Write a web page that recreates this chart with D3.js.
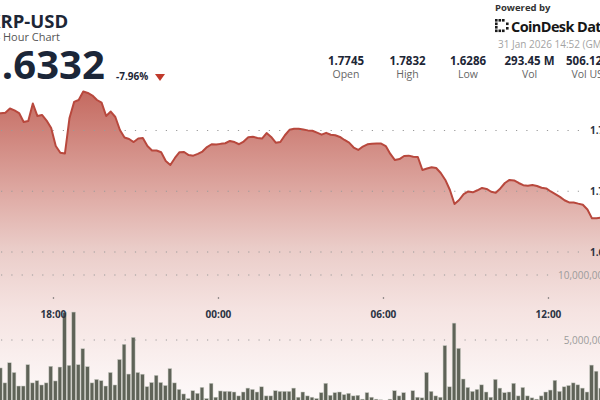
<!DOCTYPE html>
<html><head><meta charset="utf-8">
<script src="https://cdn.jsdelivr.net/npm/d3@7"></script>
<style>
html,body{margin:0;padding:0;background:#fff;overflow:hidden}
svg{display:block;font-family:"Open Sans",sans-serif}
</style></head><body>
<svg id="c" width="600" height="400"></svg>
<script>
const symbol = "XRP-USD";
const subtitle = "24 Hour Chart";
const lastPrice = "1.6332";
const changePct = "-7.96%";
const poweredBy = "Powered by";
const brand = "CoinDesk Data";
const timestamp = "31 Jan 2026 14:52 (GMT)";
const statLabels = ["Open", "High", "Low", "Vol", "Vol USD"];
const statValues = ["1.7745", "1.7832", "1.6286", "293.45 M", "506.12 M"];
const priceTicks = [1.65, 1.70, 1.75];
const volumeTicks = [5000000, 10000000];
const timeTicks = ["2026-01-30T18:00", "2026-01-31T00:00", "2026-01-31T06:00", "2026-01-31T12:00"];
const windowStart = "2026-01-30T14:52";
const windowEnd = "2026-01-31T14:52";
const priceStart = "2026-01-30T15:55";   // 10-minute closes
const prices = [1.7640,
 1.7642,1.7647,1.7681,1.7665,1.7644,1.7570,1.7578,1.7722,1.7619,1.7628,
 1.7582,1.7521,1.7372,1.7317,1.7310,1.7603,1.7735,1.7751,1.7821,1.7809,
 1.7788,1.7751,1.7729,1.7619,1.7656,1.7611,1.7504,1.7442,1.7430,1.7405,
 1.7434,1.7438,1.7372,1.7335,1.7335,1.7321,1.7249,1.7216,1.7274,1.7321,
 1.7323,1.7298,1.7293,1.7308,1.7327,1.7364,1.7387,1.7384,1.7390,1.7395,
 1.7414,1.7405,1.7387,1.7409,1.7445,1.7448,1.7439,1.7434,1.7479,1.7447,
 1.7400,1.7405,1.7461,1.7506,1.7515,1.7515,1.7508,1.7501,1.7498,1.7482,
 1.7466,1.7481,1.7465,1.7461,1.7447,1.7422,1.7400,1.7360,1.7340,1.7368,
 1.7386,1.7391,1.7393,1.7392,1.7372,1.7307,1.7257,1.7265,1.7290,1.7293,
 1.7284,1.7282,1.7175,1.7187,1.7197,1.7191,1.7150,1.7093,1.7010,1.6895,
 1.6928,1.6977,1.6998,1.6991,1.7008,1.7027,1.7019,1.6996,1.6988,1.7023,
 1.7068,1.7093,1.7089,1.7068,1.7050,1.7046,1.7051,1.7043,1.7029,1.7023,
 1.6998,1.6977,1.6954,1.6926,1.6908,1.6908,1.6898,1.6889,1.6850,1.6777,
 1.6777,1.6784];
const volumeStart = "2026-01-30T16:00";  // 10-minute volumes, millions
const volumes = [2.85,1.7,3.25,2.5,1.46,1.46,3.1,1.7,1.87,1.54,
 1.7,2.98,1.85,2.92,7.13,3.05,7.15,3.1,4.33,2.95,
 1.7,1.97,1.87,1.46,2.5,1.54,3.5,4.67,2.38,5.2,
 2.5,2.37,1.41,1.73,2.28,1.73,1.5,2.8,1.7,1.2,
 0.85,0.5,1.1,0.9,1.36,0.5,1.67,0.6,1.08,1.05,
 1.05,1.0,0.7,1.0,1.3,1.2,1.0,1.4,0.7,0.7,
 1.1,1.05,1.05,1.05,1.3,0.6,
 1.0,0.7,0.6,0.5,0.95,1.67,0.75,0.95,1.0,0.8,
 0.9,0.7,0.75,0.45,0.95,0.6,0.45,0.4,0.35,0.45,
 1.1,0.7,0.95,0.35,1.1,0.6,0.55,2.5,1.05,0.7,
 0.6,4.57,1.4,6.3,4.36,2.0,1.35,1.05,1.2,1.55,
 1.0,0.6,1.97,1.3,0.95,1.0,1.67,0.7,1.35,0.7,
 0.55,0.45,0.7,1.0,1.15,1.9,1.05,1.4,1.5,1.7,
 1.55,1.3,1.0,3.07,2.6,1.3];

const svg = d3.select("#c");
const parse = s => new Date(s + ":00Z");
const step = 10 * 60 * 1000;

const x = d3.scaleUtc().domain([parse(windowStart), parse(windowEnd)]).range([-32.7, 627.3]);
const yP = d3.scaleLinear().domain([1.65, 1.75]).range([252, 130.5]);
const yV = d3.scaleLinear().domain([0, 10000000]).range([405, 275]);

const pStart = parse(priceStart).getTime();
const priceData = prices.map((p, i) => ({t: new Date(pStart + i * step), p}));
const vStart = parse(volumeStart).getTime();
const volData = volumes.map((v, i) => ({t: new Date(vStart + i * step), v: v * 1e6}));

// gradient
const defs = svg.append("defs");
const g = defs.append("linearGradient").attr("id", "fillG")
  .attr("gradientUnits", "userSpaceOnUse").attr("x1", 0).attr("x2", 0)
  .attr("y1", yP(1.7832)).attr("y2", yV(0));
[[0, "#c4695f"], [0.35, "#e0aea8"], [0.5, "#eaccc8"], [0.7, "#f5e3e1"], [1, "#fefbfb"]]
  .forEach(([o, c]) => g.append("stop").attr("offset", o).attr("stop-color", c));

// area
svg.append("path").datum(priceData)
  .attr("d", d3.area().x(d => x(d.t)).y0(yV(0)).y1(d => yP(d.p)))
  .attr("fill", "url(#fillG)");

// grid lines
const gridG = svg.append("g").attr("stroke", "#9a9a9a").attr("stroke-width", 1.1)
  .attr("stroke-dasharray", "1.2,9.1").attr("stroke-linecap", "butt");
priceTicks.forEach(v => gridG.append("line").attr("x1", 1).attr("x2", 582)
  .attr("y1", yP(v)).attr("y2", yP(v)));
volumeTicks.forEach(v => gridG.append("line").attr("x1", 1).attr("x2", 553)
  .attr("y1", yV(v)).attr("y2", yV(v)));

// volume bars
svg.append("g").selectAll("rect").data(volData).join("rect")
  .attr("x", d => x(d.t))
  .attr("width", d => x(new Date(d.t.getTime() + step)) - x(d.t) - 0.9)
  .attr("y", d => yV(d.v))
  .attr("height", d => yV(0) - yV(d.v))
  .attr("fill", "#5f6358").attr("stroke", "#c9cbc4").attr("stroke-width", 0.5);

// price line
svg.append("path").datum(priceData)
  .attr("d", d3.line().x(d => x(d.t)).y(d => yP(d.p)))
  .attr("fill", "none").attr("stroke", "#b8483d").attr("stroke-width", 2)
  .attr("stroke-linejoin", "round");

// axis labels
svg.append("g").selectAll("text").data(priceTicks).join("text")
  .attr("x", 590).attr("y", d => yP(d) + 3.6)
  .attr("font-size", 10).attr("font-weight", 700).attr("fill", "#2b3343")
  .text(d => d3.format(".2f")(d));
svg.append("g").selectAll("text").data(volumeTicks).join("text")
  .attr("x", 609).attr("y", d => yV(d) + 3.6).attr("text-anchor", "end")
  .attr("font-size", 10).attr("fill", "#9b9b9b")
  .text(d => d3.format(",")(d));
const tt = timeTicks.map(parse);
svg.append("g").selectAll("circle").data(tt).join("circle")
  .attr("cx", d => x(d)).attr("cy", 298).attr("r", 0.8).attr("fill", "#666");
svg.append("g").selectAll("text").data(tt).join("text")
  .attr("x", d => x(d)).attr("y", 318).attr("text-anchor", "middle")
  .attr("font-size", 10).attr("font-weight", 700).attr("fill", "#2b3343")
  .text(d3.utcFormat("%H:%M"));

// header left
svg.append("text").attr("x", -11.8).attr("y", 27.5).attr("font-size", 18.5).attr("font-weight", 700)
  .attr("fill", "#1d2636").text(symbol);
svg.append("text").attr("x", -12.5).attr("y", 41).attr("font-size", 11).attr("fill", "#555")
  .text(subtitle);
svg.append("text").attr("x", -21).attr("y", 79).attr("font-size", 40).attr("font-weight", 700)
  .attr("fill", "#1b2638").text(lastPrice);
svg.append("text").attr("x", 116).attr("y", 80).attr("font-size", 10).attr("font-weight", 700)
  .attr("fill", "#1d2636").text(changePct);
svg.append("path").attr("d", "M155,74 L165,74 L160,81 Z").attr("fill", "#c0392b");

// header right
svg.append("text").attr("x", 495).attr("y", 11).attr("font-size", 9.5).attr("font-weight", 700)
  .attr("fill", "#333").text(poweredBy);
const logo = svg.append("g").attr("fill", "#1a1a1a");
[[495,19],[495,22.5],[495,26],[495,29.5],[498.5,19],[502,19],[498.5,29.5],[502,29.5],[506,22.5],[506,27]]
  .forEach(([a, b]) => logo.append("rect").attr("x", a).attr("y", b).attr("width", 2.6).attr("height", 2.6));
svg.append("text").attr("x", 511).attr("y", 32).attr("font-size", 14.5).attr("font-weight", 700)
  .attr("letter-spacing", -0.6).attr("fill", "#161616").text(brand);
svg.append("text").attr("x", 498).attr("y", 48).attr("font-size", 10).attr("fill", "#a3a3a3")
  .text(timestamp);

const statX = [346, 407.5, 468, 529.5, 591];
svg.append("g").selectAll("text").data(statValues).join("text")
  .attr("x", (d, i) => statX[i]).attr("y", 65).attr("text-anchor", "middle")
  .attr("font-size", 11.5).attr("font-weight", 700).attr("fill", "#1d2636").text(d => d);
svg.append("g").selectAll("text").data(statLabels).join("text")
  .attr("x", (d, i) => statX[i]).attr("y", 78).attr("text-anchor", "middle")
  .attr("font-size", 10.5).attr("fill", "#666").text(d => d);
</script>
</body></html>
